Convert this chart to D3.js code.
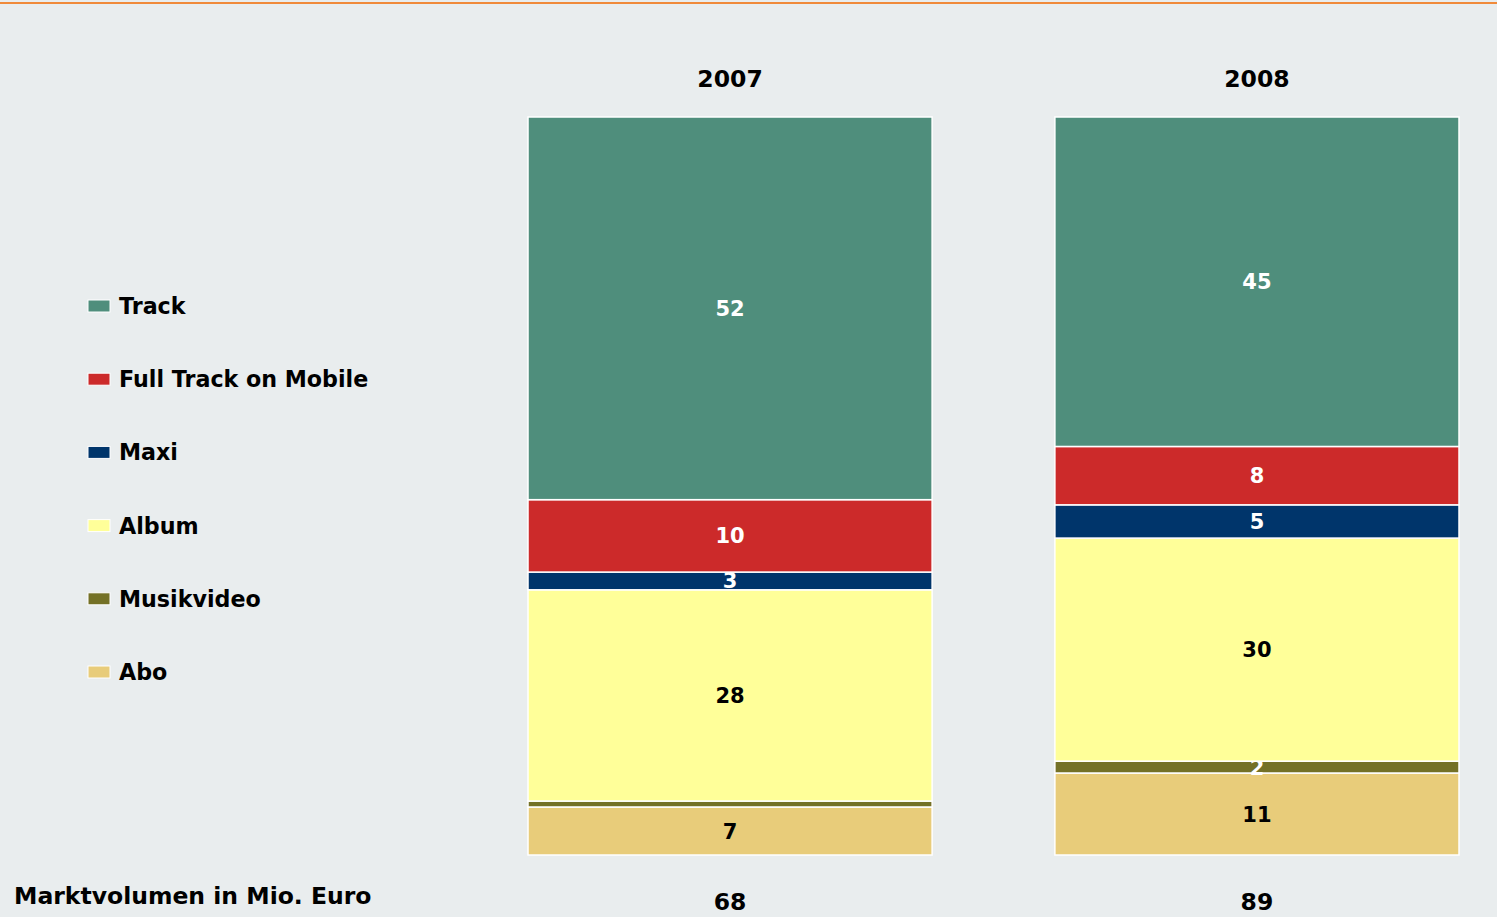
<!DOCTYPE html>
<html lang="de">
<head>
  <meta charset="UTF-8">
  <script src="https://d3js.org/d3.v7.min.js"></script>
  <title>Marktvolumen Download</title>
  <style>
    body { margin: 0; background: #e9edee; }
    svg text { font-family: "DejaVu Sans", Verdana, sans-serif; font-weight: bold; }
  </style>
</head>
<body>
  <svg style="width:1497px;height:917px;display:block"></svg>
  <script>
    // Jahre und Segmente (von unten nach oben gestapelt)
    const years = ["2007", "2008"];
    const segments = ["Abo", "Musikvideo", "Album", "Maxi", "Full Track on Mobile", "Track"];
    const legendOrder = ["Track", "Full Track on Mobile", "Maxi", "Album", "Musikvideo", "Abo"];

    // Anteile in Prozent (aus der Grafik geschätzt), Reihenfolge wie segments
    const share2007 = [6.5, 0.8, 28.6, 2.4, 9.8, 51.8];
    const share2008 = [11.1, 1.6, 30.2, 4.5, 7.9, 44.6];
    // beschriftete Werte (leer = keine Beschriftung)
    const label2007 = ["7", "", "28", "3", "10", "52"];
    const label2008 = ["11", "2", "30", "5", "8", "45"];
    const totals = [68, 89];

    const colors = ["#e8cc7a", "#747126", "#ffff99", "#00356b", "#cc2a2a", "#4f8e7c"];
    const darkText = ["Abo", "Album"];

    const rows = years.map((y, i) => {
      const vals = i === 0 ? share2007 : share2008;
      const labs = i === 0 ? label2007 : label2008;
      const row = { year: y, labels: {} };
      segments.forEach((s, j) => { row[s] = vals[j]; row.labels[s] = labs[j]; });
      return row;
    });

    const svg = d3.select("svg");

    // orange Linie oben
    svg.append("rect").attr("x", 0).attr("y", 2).attr("width", 1497).attr("height", 2).attr("fill", "#f08a3a");

    const x = d3.scaleBand().domain(years).range([528, 1459]).paddingInner(0.233).paddingOuter(0);
    const y = d3.scaleLinear().domain([0, 1]).range([855, 117]);
    const color = d3.scaleOrdinal().domain(segments).range(colors);

    const stack = d3.stack().keys(segments).offset(d3.stackOffsetExpand);
    const series = stack(rows);

    const layer = svg.selectAll("g.layer")
      .data(series)
      .enter()
      .append("g")
      .attr("class", "layer");

    layer.selectAll("rect")
      .data(d => d.map(p => ({ key: d.key, p: p })))
      .enter()
      .append("rect")
      .attr("x", d => x(d.p.data.year))
      .attr("width", x.bandwidth())
      .attr("y", d => y(d.p[1]))
      .attr("height", d => y(d.p[0]) - y(d.p[1]))
      .attr("fill", d => color(d.key))
      .attr("stroke", "#ffffff")
      .attr("stroke-width", 1.5);

    layer.selectAll("text")
      .data(d => d.map(p => ({ key: d.key, p: p })).filter(d => d.p.data.labels[d.key] !== ""))
      .enter()
      .append("text")
      .attr("x", d => x(d.p.data.year) + x.bandwidth() / 2)
      .attr("y", d => (y(d.p[0]) + y(d.p[1])) / 2)
      .attr("dy", "0.36em")
      .attr("text-anchor", "middle")
      .attr("font-size", 21)
      .attr("fill", d => darkText.includes(d.key) ? "#000" : "#fff")
      .text(d => d.p.data.labels[d.key]);

    // Jahre oben
    svg.selectAll("text.year")
      .data(years)
      .enter()
      .append("text")
      .attr("class", "year")
      .attr("x", d => x(d) + x.bandwidth() / 2)
      .attr("y", 79)
      .attr("dy", "0.36em")
      .attr("text-anchor", "middle")
      .attr("font-size", 23.5)
      .attr("fill", "#000")
      .text(d => d);

    // Marktvolumen unten
    svg.selectAll("text.total")
      .data(totals)
      .enter()
      .append("text")
      .attr("class", "total")
      .attr("x", (d, i) => x(years[i]) + x.bandwidth() / 2)
      .attr("y", 902)
      .attr("dy", "0.36em")
      .attr("text-anchor", "middle")
      .attr("font-size", 23.5)
      .attr("fill", "#000")
      .text(d => d);

    svg.append("text")
      .attr("x", 14)
      .attr("y", 896)
      .attr("dy", "0.36em")
      .attr("font-size", 23.5)
      .attr("fill", "#000")
      .text("Marktvolumen in Mio. Euro");

    // Legende
    const legend = svg.selectAll("g.legend")
      .data(legendOrder)
      .enter()
      .append("g")
      .attr("class", "legend")
      .attr("transform", (d, i) => `translate(88, ${306 + i * 73.2})`);

    legend.append("rect")
      .attr("x", 0).attr("y", -6)
      .attr("width", 22).attr("height", 12)
      .attr("fill", d => color(d))
      .attr("stroke", "#fff").attr("stroke-width", 1);

    legend.append("text")
      .attr("x", 31)
      .attr("y", 0)
      .attr("dy", "0.36em")
      .attr("font-size", 22.2)
      .attr("fill", "#000")
      .text(d => d);
  </script>
</body>
</html>
